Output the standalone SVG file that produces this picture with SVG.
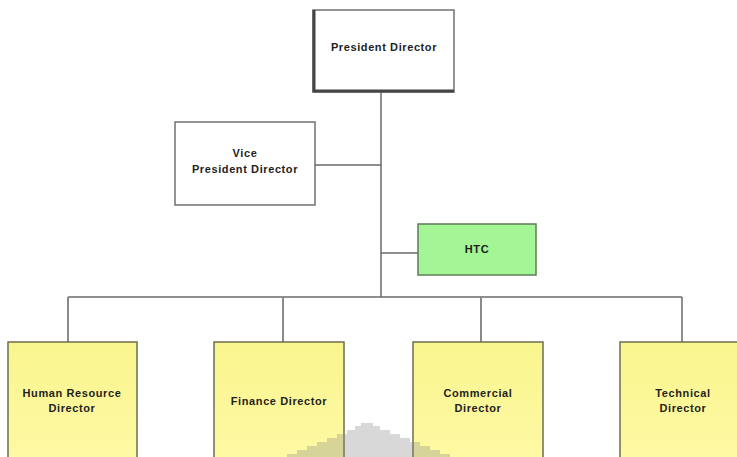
<svg xmlns="http://www.w3.org/2000/svg" width="737" height="457" viewBox="0 0 737 457">
  <defs>
    <style>
      .lbl { font-family: "Liberation Sans", Arial, sans-serif; font-weight: bold; font-size: 11px; letter-spacing: 0.6px; fill: #1e1e1e; text-anchor: middle; }
      .wbox { fill: #ffffff; stroke: #707070; stroke-width: 1.5; }
      .ybox { stroke: #6e6e50; stroke-width: 1.5; }
      .gbox { fill: #a3f596; stroke: #5e7e56; stroke-width: 1.5; }
      .shade { stroke: #444; stroke-width: 3; fill: none; }
      .conn { stroke: #6a6a6a; stroke-width: 1.5; fill: none; }
      .drop { stroke: #8a8a8a; stroke-width: 2; fill: none; }
    </style>
    <linearGradient id="yfill" x1="0" y1="0" x2="0" y2="1">
      <stop offset="0" stop-color="#f9f58e"/>
      <stop offset="1" stop-color="#fffaa6"/>
    </linearGradient>
  </defs>
  <rect width="737" height="457" fill="#ffffff"/>

  <!-- connectors -->
  <g id="connectors">
    <path class="conn" d="M381 92 V297"/>
    <path class="conn" d="M315 165 H381"/>
    <path class="conn" d="M381 253 H418"/>
    <path class="conn" d="M68 297 H682"/>
    <path class="drop" d="M68 297 V342"/>
    <path class="drop" d="M283 297 V342"/>
    <path class="drop" d="M481 297 V342"/>
    <path class="conn" d="M682 297 V342"/>
  </g>

  <g id="president">
    <rect class="wbox" x="313" y="10" width="141" height="82"/>
    <path class="shade" d="M314 10 V91 H454"/>
    <text class="lbl" x="384" y="51">President Director</text>
  </g>

  <g id="vice">
    <rect class="wbox" x="175" y="122" width="140" height="83"/>
    <text class="lbl" x="245" y="157">Vice</text>
    <text class="lbl" x="245" y="173">President Director</text>
  </g>

  <g id="htc">
    <rect class="gbox" x="418" y="224" width="118" height="51"/>
    <text class="lbl" x="477" y="253">HTC</text>
  </g>

  <g id="hr">
    <rect class="ybox" x="8" y="342" width="129" height="130" fill="url(#yfill)"/>
    <text class="lbl" x="72" y="397">Human Resource</text>
    <text class="lbl" x="72" y="412">Director</text>
  </g>

  <g id="finance">
    <rect class="ybox" x="214" y="342" width="130" height="130" fill="url(#yfill)"/>
    <text class="lbl" x="279" y="405">Finance Director</text>
  </g>

  <g id="commercial">
    <rect class="ybox" x="413" y="342" width="130" height="130" fill="url(#yfill)"/>
    <text class="lbl" x="478" y="397">Commercial</text>
    <text class="lbl" x="478" y="412">Director</text>
  </g>

  <g id="technical">
    <rect class="ybox" x="620" y="342" width="130" height="130" fill="url(#yfill)"/>
    <text class="lbl" x="683" y="397">Technical</text>
    <text class="lbl" x="683" y="412">Director</text>
  </g>

  <!-- faint stepped mark near the bottom edge -->
  <polygon points="287,457 287,454 297,454 297,450 307,450 307,446 317,446 317,442 327,442 327,438 337,438 337,434 347,434 347,430 355,430 355,426 361,426 361,423 373,423 373,426 380,426 380,430 390,430 390,434 400,434 400,438 410,438 410,442 420,442 420,446 430,446 430,450 440,450 440,454 450,454 450,457" fill="#888" opacity="0.33"/>
</svg>
